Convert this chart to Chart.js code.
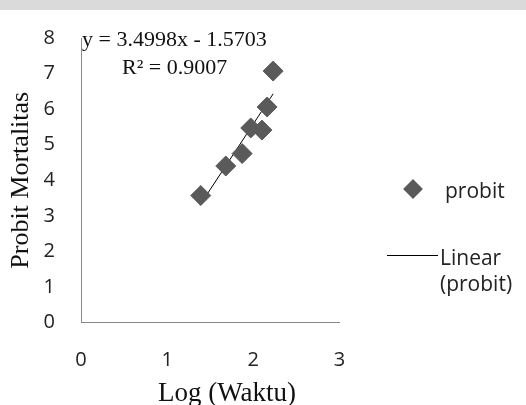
<!DOCTYPE html>
<html>
<head>
<meta charset="utf-8">
<script src="https://cdn.jsdelivr.net/npm/chart.js@4.4.1/dist/chart.umd.min.js"></script>
<style>
    html, body { margin: 0; padding: 0; background: #fff; }
    #wrap { position: relative; width: 526px; height: 405px; overflow: hidden; }
    #band { position: absolute; left: 0; top: 0; width: 526px; height: 10px; background: #dadada; }
    canvas { position: absolute; left: 0; top: 0; }
    .serif { position: absolute; font-family: "Liberation Serif", "Times New Roman", serif; color: #111; white-space: nowrap; }
    .sans { position: absolute; font-family: "Open Sans", sans-serif; color: #222; white-space: nowrap; }
    #eq { left: 82px; top: 26px; font-size: 22px; line-height: 26px; }
    #r2 { left: 122px; top: 54px; font-size: 22px; line-height: 26px; }
    #xtitle { left: 158px; top: 377px; font-size: 27px; line-height: 30px; }
    #lg-dot { position: absolute; left: 406px; top: 182px; width: 14px; height: 14px; background: #5a5a5a; transform: rotate(45deg); }
    #lg-line { position: absolute; left: 387px; top: 255px; width: 51px; height: 1px; background: #000; }
</style>
</head>
<body>
<div id="wrap">
    <div id="band"></div>
    <canvas id="probitChart" width="526" height="405"></canvas>
    <div id="eq" class="serif">y = 3.4998x - 1.5703</div>
    <div id="r2" class="serif">R² = 0.9007</div>
    <div id="xtitle" class="serif">Log (Waktu)</div>
    <div id="lg-dot"></div>
    <div class="sans" style="left:445px; top:176px; font-size:21px; line-height:28px;">probit</div>
    <div id="lg-line"></div>
    <div class="sans" style="left:440px; top:244px; font-size:21px; line-height:26px;">Linear<br>(probit)</div>
</div>
<script>
// data
const logWaktu = [1.39, 1.68, 1.87, 1.97, 2.10, 2.16, 2.23];
const probit = [3.57, 4.40, 4.75, 5.47, 5.41, 6.06, 7.07];
// ujung garis tren linear
const trendX = [1.38, 2.23];
const trendY = [3.30, 6.43];
const xTicks = [0, 1, 2, 3];
const yTicks = [0, 1, 2, 3, 4, 5, 6, 7, 8];

const pts = logWaktu.map((x, i) => ({ x: x, y: probit[i] }));
const trend = trendX.map((x, i) => ({ x: x, y: trendY[i] }));

const tickFont = { family: 'Open Sans', size: 20 };

new Chart(document.getElementById('probitChart'), {
    type: 'scatter',
    data: {
        datasets: [
            {
                label: 'probit',
                data: pts,
                pointStyle: 'rectRot',
                pointRadius: 10,
                pointHoverRadius: 10,
                backgroundColor: '#5a5a5a',
                borderColor: '#5a5a5a',
                borderWidth: 1
            },
            {
                label: 'Linear (probit)',
                type: 'line',
                data: trend,
                showLine: true,
                pointRadius: 0,
                borderColor: '#000',
                borderWidth: 1,
                fill: false
            }
        ]
    },
    options: {
        responsive: false,
        animation: false,
        layout: { padding: { left: 0, top: 22, right: 186.5, bottom: 0 } },
        plugins: { legend: { display: false }, tooltip: { enabled: false } },
        scales: {
            x: {
                type: 'linear',
                min: 0, max: 3,
                afterBuildTicks: s => { s.ticks = xTicks.map(v => ({ value: v })); },
                afterFit: s => { s.height = 82.5; },
                grid: { display: false, drawTicks: false },
                border: { color: '#888', width: 1 },
                ticks: { font: tickFont, color: '#222', padding: 26, maxRotation: 0 }
            },
            y: {
                type: 'linear',
                min: 0, max: 8,
                afterBuildTicks: s => { s.ticks = yTicks.map(v => ({ value: v })); },
                afterFit: s => { s.width = 81; },
                grid: { display: false, drawTicks: false },
                border: { color: '#888', width: 1 },
                ticks: { font: tickFont, color: '#222', padding: 26 },
                title: {
                    display: true,
                    text: 'Probit Mortalitas',
                    font: { family: 'Liberation Serif', size: 26 },
                    color: '#111',
                    padding: { top: 6, bottom: 0 }
                }
            }
        }
    }
});
</script>
</body>
</html>
